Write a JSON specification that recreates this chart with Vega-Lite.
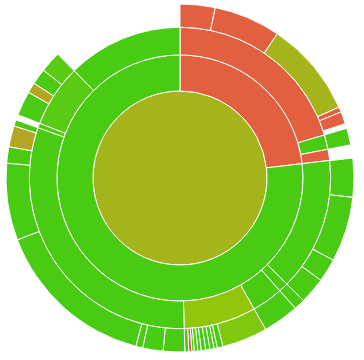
{
  "$schema": "https://vega.github.io/schema/vega-lite/v6.json",
  "width": 360,
  "height": 356,
  "padding": 0,
  "background": "white",
  "config": {"view": {"stroke": null}},
  "data": {
    "values": [
      {"depth": 0, "depthEnd": 1, "start": 0, "end": 360, "coverage": 72},
      {"depth": 1, "depthEnd": 2, "start": 0, "end": 83.3, "coverage": 50},
      {"depth": 1, "depthEnd": 2, "start": 83.3, "end": 360, "coverage": 100},
      {"depth": 2, "depthEnd": 3, "start": 0, "end": 73.4, "coverage": 50},
      {"depth": 2, "depthEnd": 3, "start": 73.4, "end": 79, "coverage": 100},
      {"depth": 2, "depthEnd": 3, "start": 79, "end": 83.3, "coverage": 50},
      {"depth": 2, "depthEnd": 3, "start": 83.3, "end": 134.8, "coverage": 100},
      {"depth": 2, "depthEnd": 3, "start": 134.8, "end": 138.5, "coverage": 100},
      {"depth": 2, "depthEnd": 3, "start": 138.5, "end": 150.5, "coverage": 100},
      {"depth": 2, "depthEnd": 3, "start": 150.5, "end": 178.4, "coverage": 85},
      {"depth": 2, "depthEnd": 3, "start": 178.4, "end": 289.5, "coverage": 100},
      {"depth": 2, "depthEnd": 3, "start": 289.5, "end": 291.3, "coverage": 100},
      {"depth": 2, "depthEnd": 3, "start": 291.3, "end": 315.4, "coverage": 95},
      {"depth": 2, "depthEnd": 3, "start": 315.4, "end": 360, "coverage": 100},
      {"depth": 3, "depthEnd": 4, "start": 0, "end": 11.7, "coverage": 50},
      {"depth": 3, "depthEnd": 4, "start": 11.7, "end": 34, "coverage": 50},
      {"depth": 3, "depthEnd": 4, "start": 34, "end": 66, "coverage": 72},
      {"depth": 3, "depthEnd": 4, "start": 66, "end": 67.7, "coverage": 50},
      {"depth": 3, "depthEnd": 4, "start": 67.7, "end": 71.8, "coverage": 50},
      {"depth": 3, "depthEnd": 4, "start": 73.4, "end": 79, "coverage": 100},
      {"depth": 3, "depthEnd": 4, "start": 83.4, "end": 96.4, "coverage": 100},
      {"depth": 3, "depthEnd": 4, "start": 96.4, "end": 118.2, "coverage": 100},
      {"depth": 3, "depthEnd": 4, "start": 118.2, "end": 126, "coverage": 100},
      {"depth": 3, "depthEnd": 4, "start": 126, "end": 134.8, "coverage": 100},
      {"depth": 3, "depthEnd": 4, "start": 134.8, "end": 138.5, "coverage": 100},
      {"depth": 3, "depthEnd": 4, "start": 138.5, "end": 150.5, "coverage": 100},
      {"depth": 3, "depthEnd": 4, "start": 150.5, "end": 165.7, "coverage": 90},
      {"depth": 3, "depthEnd": 4, "start": 165.7, "end": 167.6, "coverage": 100},
      {"depth": 3, "depthEnd": 4, "start": 167.6, "end": 168.7, "coverage": 100},
      {"depth": 3, "depthEnd": 4, "start": 168.7, "end": 170.1, "coverage": 100},
      {"depth": 3, "depthEnd": 4, "start": 170.1, "end": 171.5, "coverage": 100},
      {"depth": 3, "depthEnd": 4, "start": 171.5, "end": 173, "coverage": 100},
      {"depth": 3, "depthEnd": 4, "start": 173, "end": 174.1, "coverage": 100},
      {"depth": 3, "depthEnd": 4, "start": 174.1, "end": 175.3, "coverage": 100},
      {"depth": 3, "depthEnd": 4, "start": 175.3, "end": 176.1, "coverage": 100},
      {"depth": 3, "depthEnd": 4, "start": 176.1, "end": 177.1, "coverage": 50},
      {"depth": 3, "depthEnd": 4, "start": 177.1, "end": 178.4, "coverage": 100},
      {"depth": 3, "depthEnd": 4, "start": 178.4, "end": 185.6, "coverage": 100},
      {"depth": 3, "depthEnd": 4, "start": 185.6, "end": 192.4, "coverage": 100},
      {"depth": 3, "depthEnd": 4, "start": 192.4, "end": 194.7, "coverage": 100},
      {"depth": 3, "depthEnd": 4, "start": 194.7, "end": 249.2, "coverage": 100},
      {"depth": 3, "depthEnd": 4, "start": 249.2, "end": 274.9, "coverage": 100},
      {"depth": 3, "depthEnd": 4, "start": 274.9, "end": 280.4, "coverage": 100},
      {"depth": 3, "depthEnd": 4, "start": 280.4, "end": 287.4, "coverage": 68},
      {"depth": 3, "depthEnd": 4, "start": 287.4, "end": 289.5, "coverage": 100},
      {"depth": 3, "depthEnd": 4, "start": 291.3, "end": 299.5, "coverage": 100},
      {"depth": 3, "depthEnd": 4, "start": 299.5, "end": 303, "coverage": 68},
      {"depth": 3, "depthEnd": 4, "start": 303, "end": 308.3, "coverage": 100},
      {"depth": 3, "depthEnd": 4, "start": 308.3, "end": 315.4, "coverage": 95}
    ]
  },
  "mark": {"type": "arc", "stroke": "white", "strokeWidth": 1},
  "encoding": {
    "theta": {"field": "start", "type": "quantitative", "stack": null, "scale": {"type": "linear", "domain": [0, 360], "range": [0, 6.283185307179586]}},
    "theta2": {"field": "end"},
    "radius": {"field": "depth", "type": "quantitative", "scale": {"type": "sqrt", "domain": [0, 4], "range": [0, 174], "zero": true}},
    "radius2": {"field": "depthEnd"},
    "color": {"field": "coverage", "type": "quantitative", "legend": null, "scale": {"domain": [50, 68, 72, 85, 90, 95, 100], "range": ["#e2603f", "#b4a624", "#a4b41a", "#93c60b", "#7ec910", "#5acb14", "#4acb13"], "interpolate": "rgb"}}
  }
}
